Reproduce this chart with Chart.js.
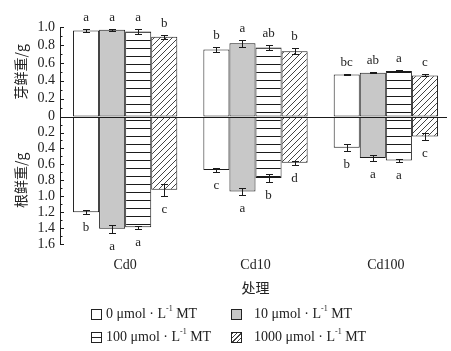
<!DOCTYPE html>
<html><head><meta charset="utf-8">
<script src="https://cdn.jsdelivr.net/npm/chart.js@4.4.0/dist/chart.umd.min.js"></script>
<style>
html,body{margin:0;padding:0;background:#fff;}
#wrap{position:absolute;left:0;top:0;width:451px;height:351px;}
#legend{position:absolute;left:0;top:0;width:451px;height:351px;pointer-events:none;font-family:'Liberation Serif',serif;font-size:14px;color:#222;}
.li{position:absolute;display:flex;align-items:center;white-space:nowrap;height:14px;line-height:14px;}
.sw{width:11px;height:11px;border:1px solid #222;box-sizing:border-box;flex:none;}
sup{font-size:8px;line-height:0;position:relative;top:-1px;}
</style></head>
<body>
<div id="wrap"><canvas id="c"></canvas></div>
<div id="legend"></div>
<script>
// ---------- data ----------
const categories = ['Cd0', 'Cd10', 'Cd100'];
const seriesLabels = ['0', '10', '100', '1000'];   // μmol·L-1 MT

const shootMT0    = [0.96, 0.75, 0.47];
const shootMT10   = [0.97, 0.82, 0.49];
const shootMT100  = [0.95, 0.77, 0.51];
const shootMT1000 = [0.89, 0.73, 0.46];
const shootErrMT0    = [0.02, 0.025, 0.005];
const shootErrMT10   = [0.01, 0.04, 0.005];
const shootErrMT100  = [0.03, 0.03, 0.01];
const shootErrMT1000 = [0.025, 0.035, 0.01];
const shootSigMT0    = ['a', 'b', 'bc'];
const shootSigMT10   = ['a', 'a', 'ab'];
const shootSigMT100  = ['a', 'ab', 'a'];
const shootSigMT1000 = ['b', 'b', 'c'];

const rootMT0    = [1.20, 0.67, 0.39];
const rootMT10   = [1.41, 0.94, 0.52];
const rootMT100  = [1.39, 0.77, 0.55];
const rootMT1000 = [0.92, 0.58, 0.25];
const rootErrMT0    = [0.025, 0.03, 0.045];
const rootErrMT10   = [0.05, 0.045, 0.04];
const rootErrMT100  = [0.02, 0.055, 0.017];
const rootErrMT1000 = [0.075, 0.025, 0.045];
const rootSigMT0    = ['b', 'c', 'b'];
const rootSigMT10   = ['a', 'a', 'a'];
const rootSigMT100  = ['a', 'b', 'a'];
const rootSigMT1000 = ['c', 'd', 'c'];

const shootTicks = [0, 0.2, 0.4, 0.6, 0.8, 1.0];
const rootTicks  = [0.2, 0.4, 0.6, 0.8, 1.0, 1.2, 1.4, 1.6];

// ---------- patterns ----------
function stripePattern() {
  const c = document.createElement('canvas'); c.width = 4; c.height = 8;
  const g = c.getContext('2d');
  g.fillStyle = '#fff'; g.fillRect(0, 0, 4, 8);
  g.fillStyle = '#1a1a1a'; g.fillRect(0, 0, 4, 1);
  return g.createPattern(c, 'repeat');
}
function hatchPattern() {
  const s = 6;
  const c = document.createElement('canvas'); c.width = s; c.height = s;
  const g = c.getContext('2d');
  g.fillStyle = '#fff'; g.fillRect(0, 0, s, s);
  g.strokeStyle = '#444'; g.lineWidth = 1;
  g.beginPath();
  g.moveTo(0, s); g.lineTo(s, 0);
  g.moveTo(-s/2, s/2); g.lineTo(s/2, -s/2);
  g.moveTo(s/2, s*1.5); g.lineTo(s*1.5, s/2);
  g.stroke();
  return g.createPattern(c, 'repeat');
}
const fills = ['#ffffff', '#c8c8c8', stripePattern(), hatchPattern()];

const shootVals = [shootMT0, shootMT10, shootMT100, shootMT1000];
const shootErrs = [shootErrMT0, shootErrMT10, shootErrMT100, shootErrMT1000];
const shootSigs = [shootSigMT0, shootSigMT10, shootSigMT100, shootSigMT1000];
const rootVals = [rootMT0, rootMT10, rootMT100, rootMT1000];
const rootErrs = [rootErrMT0, rootErrMT10, rootErrMT100, rootErrMT1000];
const rootSigs = [rootSigMT0, rootSigMT10, rootSigMT100, rootSigMT1000];

const datasets = [];
for (let i = 0; i < 4; i++) {
  const common = {
    stack: 's' + i, backgroundColor: fills[i], borderColor: '#1a1a1a', borderWidth: 1,
    borderSkipped: false, categoryPercentage: 0.8, barPercentage: 1.0
  };
  datasets.push(Object.assign({ label: seriesLabels[i] + ' shoot', data: shootVals[i], yAxisID: 'yS',
    errors: shootErrs[i], sigs: shootSigs[i], part: 'shoot' }, common));
  datasets.push(Object.assign({ label: seriesLabels[i] + ' root', data: rootVals[i], yAxisID: 'yR',
    errors: rootErrs[i], sigs: rootSigs[i], part: 'root' }, common));
}

const INK = '#1a1a1a';
const TXT = '#222';

const annotate = {
  id: 'annotate',
  afterDatasetsDraw(chart) {
    const ctx = chart.ctx, yS = chart.scales.yS, yR = chart.scales.yR, area = chart.chartArea;
    ctx.save();
    ctx.strokeStyle = INK; ctx.lineWidth = 1;
    // zero line
    const y0 = Math.round(yS.getPixelForValue(0)) + 0.5;
    ctx.beginPath(); ctx.moveTo(area.left, y0); ctx.lineTo(area.right - 4, y0); ctx.stroke();
    // inward tick marks (major every 0.2, minor every 0.1)
    const ax = yS.right;
    ctx.beginPath();
    for (let k = 0; k <= 10; k++) {
      const y = Math.round(yS.getPixelForValue(k / 10)) + 0.5;
      const len = k % 2 === 0 ? 4 : 2.5;
      ctx.moveTo(ax, y); ctx.lineTo(ax + len, y);
    }
    for (let k = 1; k <= 16; k++) {
      const y = Math.round(yR.getPixelForValue(k / 10)) + 0.5;
      const len = k % 2 === 0 ? 4 : 2.5;
      ctx.moveTo(ax, y); ctx.lineTo(ax + len, y);
    }
    ctx.stroke();
    // error bars and significance letters
    ctx.font = '13px "Liberation Serif", serif';
    ctx.fillStyle = TXT; ctx.textAlign = 'center'; ctx.textBaseline = 'alphabetic';
    chart.data.datasets.forEach((ds, di) => {
      const meta = chart.getDatasetMeta(di);
      const sc = chart.scales[ds.yAxisID];
      meta.data.forEach((el, i) => {
        const v = ds.data[i], e = ds.errors[i];
        const x = Math.round(el.x) + 0.5;
        const ya = Math.round(sc.getPixelForValue(v + e)) + 0.5;
        const yb = Math.round(sc.getPixelForValue(v - e)) + 0.5;
        ctx.beginPath();
        ctx.moveTo(x, ya); ctx.lineTo(x, yb);
        ctx.moveTo(x - 3.5, ya); ctx.lineTo(x + 3.5, ya);
        ctx.moveTo(x - 3.5, yb); ctx.lineTo(x + 3.5, yb);
        ctx.stroke();
        if (ds.part === 'shoot') ctx.fillText(ds.sigs[i], el.x, ya - 9);
        else ctx.fillText(ds.sigs[i], el.x, ya + 16);
      });
    });
    ctx.restore();
  }
};

const tickFont = { family: 'Liberation Serif', size: 14 };
const titleFont = { family: 'Noto Sans CJK SC', size: 14 };

new Chart(document.getElementById('c'), {
  type: 'bar',
  data: { labels: categories, datasets },
  options: {
    responsive: true, maintainAspectRatio: false, animation: false,
    layout: { padding: { top: 27, right: 0, left: 0, bottom: 0 } },
    plugins: { legend: { display: false }, tooltip: { enabled: false } },
    scales: {
      x: {
        type: 'category',
        grid: { display: false, drawTicks: false }, border: { display: false },
        ticks: { font: { family: 'Liberation Serif', size: 14 }, color: TXT, padding: 13 },
        title: { display: true, text: '处理', font: titleFont, color: TXT, padding: { top: 4, bottom: 55 } },
        afterFit: s => { s.height = 107; }
      },
      yS: {
        type: 'linear', position: 'left', stack: 'y', stackWeight: 89.3, weight: 2,
        min: 0, max: 1.0,
        afterBuildTicks: s => { s.ticks = shootTicks.map(v => ({ value: v })); },
        ticks: { font: tickFont, color: TXT, padding: 5, autoSkip: false,
          callback: v => (v === 0 ? '0' : Number(v).toFixed(1)) },
        grid: { display: false, drawTicks: false }, border: { display: true, color: INK, width: 1 },
        title: { display: true, text: '芽鲜重/g', font: titleFont, color: TXT, padding: { top: 12, bottom: 0 } },
        afterFit: s => { s.width = 60; }
      },
      yR: {
        type: 'linear', position: 'left', stack: 'y', stackWeight: 127, weight: 1, reverse: true,
        min: 0, max: 1.6,
        afterBuildTicks: s => { s.ticks = rootTicks.map(v => ({ value: v })); },
        ticks: { font: tickFont, color: TXT, padding: 5, autoSkip: false,
          callback: v => Number(v).toFixed(1) },
        grid: { display: false, drawTicks: false }, border: { display: true, color: INK, width: 1 },
        title: { display: true, text: '根鲜重/g', font: titleFont, color: TXT, padding: { top: 12, bottom: 0 } },
        afterFit: s => { s.width = 60; }
      }
    }
  },
  plugins: [annotate]
});

// ---------- legend ----------
const legendPos = [
  { left: 91, top: 307, gap: 4 }, { left: 231, top: 307, gap: 12 },
  { left: 91, top: 330, gap: 4 }, { left: 231, top: 330, gap: 12 }
];
const swatchCss = [
  'background:#fff;',
  'background:#c8c8c8;',
  'background:linear-gradient(#222,#222) center/100% 1px no-repeat #fff;',
  'background:repeating-linear-gradient(-45deg,#fff 0,#fff 2.2px,#444 2.2px,#444 3.2px);'
];
const lg = document.getElementById('legend');
seriesLabels.forEach((s, i) => {
  const d = document.createElement('div');
  d.className = 'li';
  d.style.left = legendPos[i].left + 'px';
  d.style.top = legendPos[i].top + 'px';
  d.innerHTML = '<span class="sw" style="' + swatchCss[i] + '"></span><span style="margin-left:' + legendPos[i].gap +
    'px">' + s + ' μmol · L<sup>-1</sup> MT</span>';
  lg.appendChild(d);
});
</script>
</body></html>
